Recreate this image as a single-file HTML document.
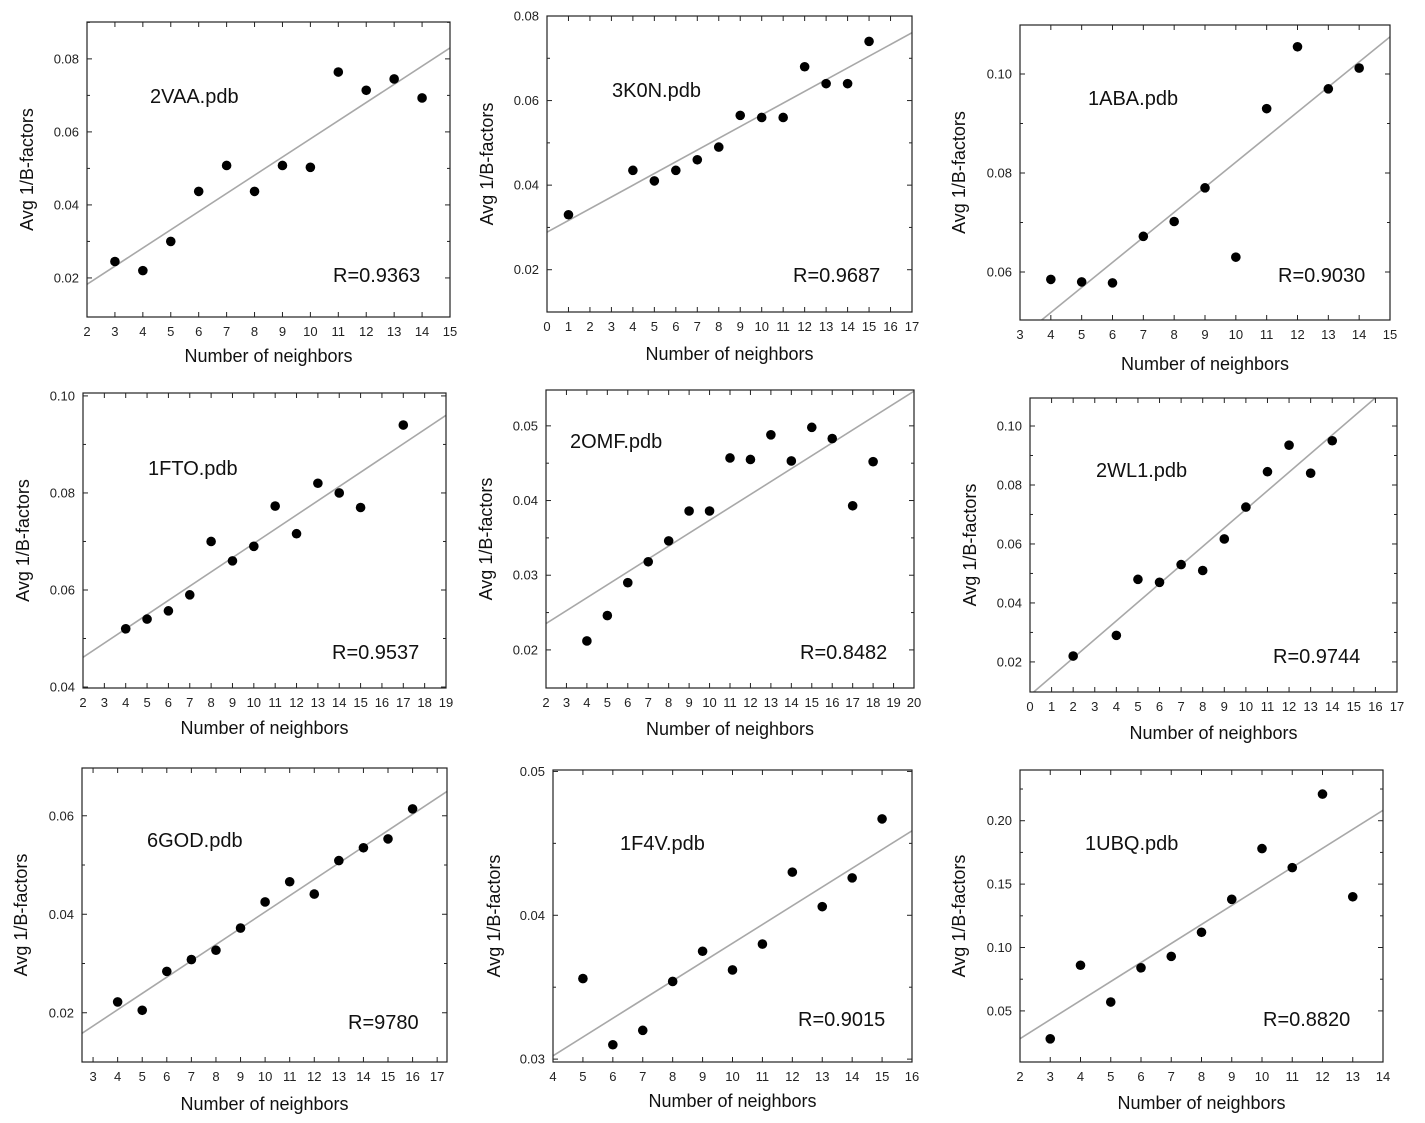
<!DOCTYPE html>
<html><head><meta charset="utf-8"><style>
body{margin:0;background:#fff}
svg{display:block;font-family:"Liberation Sans",Arial,sans-serif}
</style></head><body>
<svg id="fig" width="1425" height="1123" viewBox="0 0 1425 1123"></svg>
<script>
const names=["2VAA.pdb","3K0N.pdb","1ABA.pdb","1FTO.pdb","2OMF.pdb","2WL1.pdb","6GOD.pdb","1F4V.pdb","1UBQ.pdb"];
const rLabels=["R=0.9363","R=0.9687","R=0.9030","R=0.9537","R=0.8482","R=0.9744","R=9780","R=0.9015","R=0.8820"];
const x1=[3,4,5,6,7,8,9,10,11,12,13,14];
const y1=[0.0245,0.022,0.030,0.0437,0.0508,0.0437,0.0508,0.0503,0.0764,0.0714,0.0745,0.0693];
const x2=[1,4,5,6,7,8,9,10,11,12,13,14,15];
const y2=[0.033,0.0435,0.041,0.0435,0.046,0.049,0.0565,0.056,0.056,0.068,0.064,0.064,0.074];
const x3=[4,5,6,7,8,9,10,11,12,13,14];
const y3=[0.0585,0.058,0.0578,0.0672,0.0702,0.077,0.063,0.093,0.1055,0.097,0.1012];
const x4=[4,5,6,7,8,9,10,11,12,13,14,15,17];
const y4=[0.052,0.054,0.0557,0.059,0.070,0.066,0.069,0.0773,0.0716,0.082,0.080,0.077,0.094];
const x5=[4,5,6,7,8,9,10,11,12,13,14,15,16,17,18];
const y5=[0.0212,0.0246,0.029,0.0318,0.0346,0.0386,0.0386,0.0457,0.0455,0.0488,0.0453,0.0498,0.0483,0.0393,0.0452];
const x6=[2,4,5,6,7,8,9,10,11,12,13,14];
const y6=[0.022,0.029,0.048,0.047,0.053,0.051,0.0617,0.0725,0.0845,0.0935,0.084,0.095];
const x7=[4,5,6,7,8,9,10,11,12,13,14,15,16];
const y7=[0.0222,0.0205,0.0284,0.0308,0.0327,0.0372,0.0425,0.0466,0.0441,0.0509,0.0535,0.0553,0.0614];
const x8=[5,6,7,8,9,10,11,12,13,14,15];
const y8=[0.0356,0.031,0.032,0.0354,0.0375,0.0362,0.038,0.043,0.0406,0.0426,0.0467];
const x9=[3,4,5,6,7,8,9,10,11,12,13];
const y9=[0.028,0.086,0.057,0.084,0.093,0.112,0.138,0.178,0.163,0.221,0.140];
const xsArr=[x1,x2,x3,x4,x5,x6,x7,x8,x9];
const ysArr=[y1,y2,y3,y4,y5,y6,y7,y8,y9];
const yTicks=[[0.02,0.04,0.06,0.08],[0.02,0.04,0.06,0.08],[0.06,0.08,0.10],[0.04,0.06,0.08,0.10],[0.02,0.03,0.04,0.05],[0.02,0.04,0.06,0.08,0.10],[0.02,0.04,0.06],[0.03,0.04,0.05],[0.05,0.10,0.15,0.20]];
const xTickRange=[[2,15],[0,17],[3,15],[2,19],[2,20],[0,17],[3,17],[4,16],[2,14]];
const layout=[
 {b:[87,22,450,317],d:[2,15,0.0093,0.0901],t:[150,103],r:[333,282],yt:28,xt:362},
 {b:[547,16,912,312],d:[0,17,0.010,0.0800],t:[612,97],r:[793,282],yt:488,xt:360},
 {b:[1020,25,1390,320],d:[3,15,0.0503,0.1099],t:[1088,105],r:[1278,282],yt:960,xt:370},
 {b:[83,393,446,688],d:[2,19,0.0398,0.1006],t:[148,475],r:[332,659],yt:24,xt:734},
 {b:[546,390,914,688],d:[2,20,0.0149,0.0548],t:[570,448],r:[800,659],yt:487,xt:735},
 {b:[1030,398,1397,692],d:[0,17,0.0098,0.1095],t:[1096,477],r:[1273,663],yt:971,xt:739},
 {b:[82,768,447,1062],d:[2.55,17.4,0.010,0.0697],t:[147,847],r:[348,1029],yt:22,xt:1110},
 {b:[553,770,912,1062],d:[4,16,0.0298,0.0501],t:[620,850],r:[798,1026],yt:495,xt:1107},
 {b:[1020,770,1383,1062],d:[2,14,0.0097,0.240],t:[1085,850],r:[1263,1026],yt:960,xt:1109}
];
const NS="http://www.w3.org/2000/svg";
const svg=document.getElementById('fig');
function mk(tag,attrs,parent,text){const e=document.createElementNS(NS,tag);for(const k in attrs)e.setAttribute(k,attrs[k]);if(text!==undefined)e.textContent=text;parent.appendChild(e);return e;}
for(let p=0;p<9;p++){
 const L=layout[p],[bl,bt,br,bb]=L.b,[x0,x1d,y0,y1d]=L.d;
 const sx=v=>bl+(v-x0)/(x1d-x0)*(br-bl);
 const sy=v=>bb-(v-y0)/(y1d-y0)*(bb-bt);
 const g=mk('g',{},svg);
 
 
 const cid='c'+p;
 const cp=mk('clipPath',{id:cid},g);mk('rect',{x:bl,y:bt,width:br-bl,height:bb-bt},cp);
 const xs=xsArr[p],ys=ysArr[p],n=xs.length;
 const mxv=xs.reduce((a,b)=>a+b)/n,myv=ys.reduce((a,b)=>a+b)/n;
 let sxy=0,sxx=0;for(let i=0;i<n;i++){sxy+=(xs[i]-mxv)*(ys[i]-myv);sxx+=(xs[i]-mxv)**2;}
 const sl=sxy/sxx,ic=myv-sl*mxv;
 const fl=mk('line',{x1:sx(x0),y1:sy(ic+sl*x0),x2:sx(x1d),y2:sy(ic+sl*x1d),stroke:'#a8a8a8','stroke-width':1.6,'clip-path':'url(#'+cid+')'},g);
 
 
 const bx=mk('rect',{x:bl,y:bt,width:br-bl,height:bb-bt,fill:'none',stroke:'#222','stroke-width':1.2},g);
 
 
 const [xa,xb]=xTickRange[p];
 for(let v=xa;v<=xb;v++){
  const X=sx(v);
  mk('line',{x1:X,y1:bb,x2:X,y2:bb-5,stroke:'#222'},g);
  mk('line',{x1:X,y1:bt,x2:X,y2:bt+5,stroke:'#222'},g);
  const t=mk('text',{x:X,y:bb+19,'font-size':13,'text-anchor':'middle',fill:'#222'},g,String(v));
  
  
 }
 const yt=yTicks[p];
 const step=yt[1]-yt[0];
 for(let k=-1;k<=yt.length;k++){
  const v=yt[0]+k*step,Y=sy(v);
  if(Y<bt-0.5||Y>bb+0.5)continue;
  mk('line',{x1:bl,y1:Y,x2:bl+5,y2:Y,stroke:'#222'},g);
  mk('line',{x1:br,y1:Y,x2:br-5,y2:Y,stroke:'#222'},g);
  const mv=v+step/2,MY=sy(mv);
  if(MY>bt&&MY<bb){mk('line',{x1:bl,y1:MY,x2:bl+3,y2:MY,stroke:'#222'},g);mk('line',{x1:br,y1:MY,x2:br-3,y2:MY,stroke:'#222'},g);}
 }
 for(const v of yt){
  const t=mk('text',{x:bl-8,y:sy(v)+4.5,'font-size':13,'text-anchor':'end',fill:'#222'},g,v.toFixed(2));
  
  
 }
 for(let i=0;i<n;i++){
  const c=mk('circle',{cx:sx(xs[i]),cy:sy(ys[i]),r:4.8,fill:'#000'},g);
  
  
 }
 const tt=mk('text',{x:L.t[0],y:L.t[1],'font-size':20,fill:'#111'},g,names[p]);
 
 
 const rt=mk('text',{x:L.r[0],y:L.r[1],'font-size':20,fill:'#111'},g,rLabels[p]);
 
 
 const xt=mk('text',{x:(bl+br)/2,y:L.xt,'font-size':18,'text-anchor':'middle',fill:'#111'},g,'Number of neighbors');
 
 
 const cy=(bt+bb)/2;
 const ytl=mk('text',{x:L.yt,y:cy,'font-size':18,'text-anchor':'middle',fill:'#111',transform:'rotate(-90 '+L.yt+' '+cy+')','dominant-baseline':'middle'},g,'Avg 1/B-factors');
 
 
}
</script>
</body></html>
